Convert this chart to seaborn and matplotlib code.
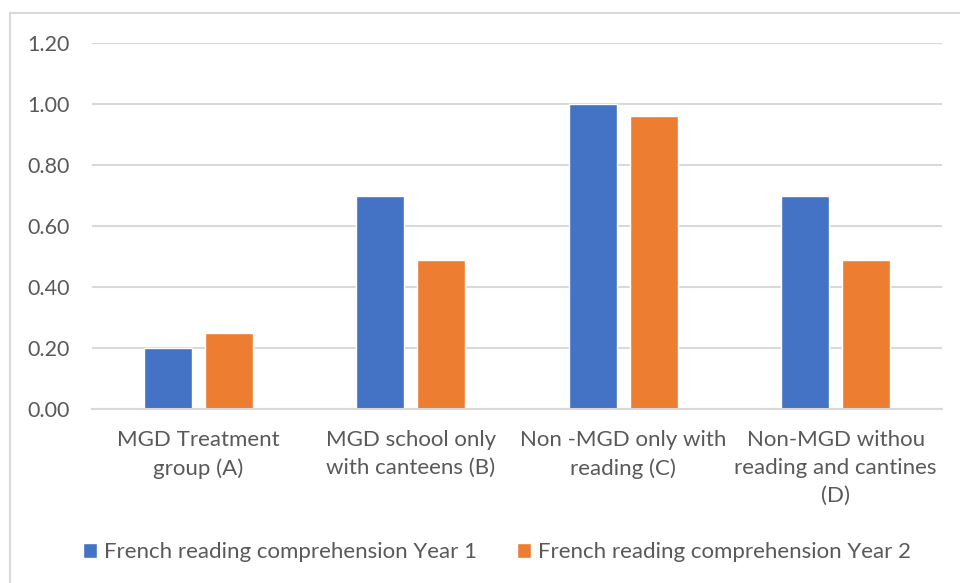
import matplotlib
matplotlib.use("Agg")
import matplotlib.pyplot as plt
from matplotlib.patches import Rectangle
import seaborn as sns
import pandas as pd

categories = [
    "MGD Treatment\ngroup (A)",
    "MGD school only\nwith canteens (B)",
    "Non -MGD only with\nreading (C)",
    "Non-MGD withou\nreading and cantines\n(D)",
]
series_names = ["French reading comprehension Year 1", "French reading comprehension Year 2"]
year1 = [0.20, 0.70, 1.00, 0.70]
year2 = [0.25, 0.49, 0.96, 0.49]
y_ticks = [0.0, 0.2, 0.4, 0.6, 0.8, 1.0, 1.2]
colors = ["#4472C4", "#ED7D31"]

df = pd.DataFrame({
    "group": categories * 2,
    "series": [series_names[0]] * 4 + [series_names[1]] * 4,
    "value": year1 + year2,
})

sns.set_theme(style="white")
plt.rcParams["font.family"] = ["Lato", "DejaVu Sans"]
text_color = "#595959"
grid_color = "#D9D9D9"

fig = plt.figure(figsize=(9.6, 5.83), dpi=100)
ax = fig.add_axes([92 / 960, 1 - 409 / 583, 850 / 960, 366 / 583])

sns.barplot(data=df, x="group", y="value", hue="series", palette=colors,
            width=0.574, gap=0.21, ax=ax, saturation=1, legend=True)

ax.set_ylim(0, 1.2)
ax.set_yticks(y_ticks)
ax.set_yticklabels([f"{t:.2f}" for t in y_ticks], color=text_color, fontsize=15.5)
ax.tick_params(axis="y", length=0, pad=16)
ax.tick_params(axis="x", length=0, pad=15, labelsize=16, labelcolor=text_color)
for lbl in ax.get_xticklabels():
    lbl.set_linespacing(1.5)
ax.set_xlabel("")
ax.set_ylabel("")
ax.grid(axis="y", color=grid_color, linewidth=1.5)
ax.set_axisbelow(True)
for side in ["left", "right", "top"]:
    ax.spines[side].set_visible(False)
ax.spines["bottom"].set_color(grid_color)
ax.spines["bottom"].set_linewidth(1.5)

leg = ax.legend(loc="center", bbox_to_anchor=(497 / 960, (583 - 552) / 583), bbox_transform=fig.transFigure,
                ncol=2, frameon=False, fontsize=16, handlelength=0.65, handleheight=0.65,
                handletextpad=0.3, columnspacing=1.8)
for t in leg.get_texts():
    t.set_color(text_color)

# chart-area frame
fig.patches.append(Rectangle((10 / 960, -0.1), 1.0, 1 - 13 / 583 + 0.1, transform=fig.transFigure,
                             fill=False, edgecolor="#D9D9D9", linewidth=1.5))

fig.savefig("out.png", dpi=100)
